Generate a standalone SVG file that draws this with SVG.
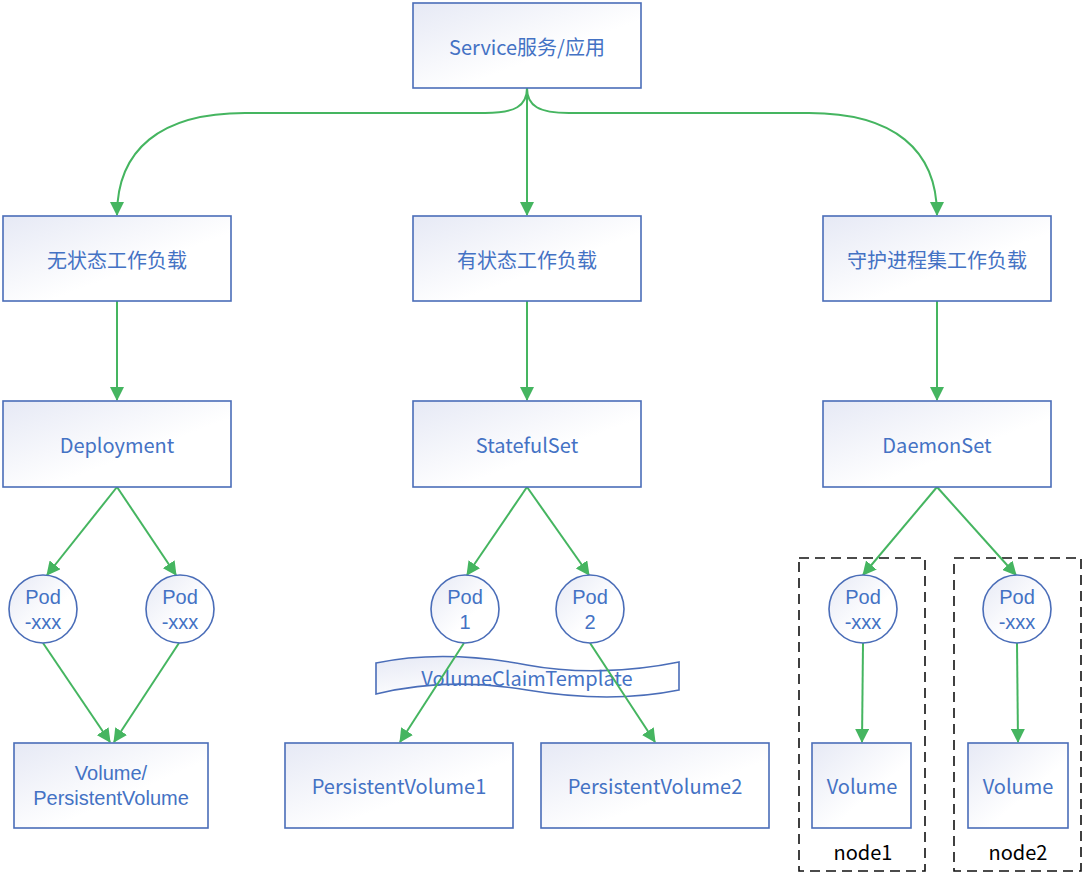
<svg xmlns="http://www.w3.org/2000/svg" width="1084" height="878" viewBox="0 0 1084 878">
<style>
.box{fill:url(#g);stroke:#4a6db8;stroke-width:1.6}
.t{font-family:"Noto Sans CJK SC","Microsoft YaHei","Noto Sans",sans-serif;font-size:20px;fill:#4472c4;text-anchor:middle;dominant-baseline:central}
.t2{font-family:"Liberation Sans",Arial,sans-serif;font-size:20px;fill:#4472c4;text-anchor:middle;dominant-baseline:central}
.k{font-family:"Noto Sans CJK SC","Noto Sans",sans-serif;font-size:20px;fill:#000;text-anchor:middle;dominant-baseline:central}
.e{fill:none;stroke:#45b560;stroke-width:2;marker-end:url(#a)}
.d{fill:none;stroke:#111;stroke-width:1.6;stroke-dasharray:10,6}
</style>
<defs>
<linearGradient id="g" x1="0" y1="0" x2="1" y2="1">
<stop offset="0" stop-color="#e6e9f5"/>
<stop offset="0.6" stop-color="#ffffff"/>
</linearGradient>
<marker id="a" viewBox="0 0 14 14" refX="13" refY="7" markerWidth="14" markerHeight="14" markerUnits="userSpaceOnUse" orient="auto">
<path d="M0,0 L14,7 L0,14 Z" fill="#45b560"/>
</marker>
</defs>
<rect width="1084" height="878" fill="#fff"/>
<g id="groups">
<rect class="d" x="799" y="558" width="126" height="313"/>
<text class="k" x="863" y="851">node1</text>
<rect class="d" x="954" y="558" width="127" height="313"/>
<text class="k" x="1018" y="851">node2</text>
</g>
<g id="vct"><path class="box" d="M376,663 C430,652 480,656 527,665 C575,674 630,672 679,662 L679,690 C630,700 575,698 527,690 C480,682 430,681 376,694 Z"/><text class="t" x="527" y="677">VolumeClaimTemplate</text></g>
<g id="connectors">
<path class="e" d="M527,88 C527,106 515,113 485,113 L245,113 C160,113 117,150 117,215"/>
<path class="e" d="M527,88 L527,215"/>
<path class="e" d="M527,88 C527,106 539,113 569,113 L809,113 C894,113 937,150 937,215"/>
<path class="e" d="M117,301 L117,400"/>
<path class="e" d="M527,301 L527,400"/>
<path class="e" d="M937,301 L937,400"/>
<path class="e" d="M117,487 L47,575"/>
<path class="e" d="M117,487 L176,575"/>
<path class="e" d="M43,643 L110,742"/>
<path class="e" d="M179,643 L114,742"/>
<path class="e" d="M527,487 L467,575"/>
<path class="e" d="M527,487 L589,575"/>
<path class="e" d="M464,643 L400,742"/>
<path class="e" d="M590,643 L655,742"/>
<path class="e" d="M937,487 L863,575"/>
<path class="e" d="M937,487 L1016,575"/>
<path class="e" d="M863,643 L862,742"/>
<path class="e" d="M1017,643 L1018,742"/>
</g>
<g id="service"><rect class="box" x="413" y="3" width="228" height="85"/><text class="t" x="527" y="46">Service服务/应用</text></g>
<g id="stateless"><rect class="box" x="3" y="216" width="228" height="85"/><text class="t" x="117" y="259">无状态工作负载</text></g>
<g id="stateful"><rect class="box" x="413" y="216" width="228" height="85"/><text class="t" x="527" y="259">有状态工作负载</text></g>
<g id="daemon"><rect class="box" x="823" y="216" width="228" height="85"/><text class="t" x="937" y="259">守护进程集工作负载</text></g>
<g id="deployment"><rect class="box" x="3" y="401" width="228" height="86"/><text class="t" x="117" y="444">Deployment</text></g>
<g id="statefulset"><rect class="box" x="413" y="401" width="228" height="86"/><text class="t" x="527" y="444">StatefulSet</text></g>
<g id="daemonset"><rect class="box" x="823" y="401" width="228" height="86"/><text class="t" x="937" y="444">DaemonSet</text></g>
<g id="pod-d1"><circle class="box" cx="43" cy="609" r="34"/><text class="t2" x="43" y="597">Pod</text><text class="t2" x="43" y="622">-xxx</text></g>
<g id="pod-d2"><circle class="box" cx="180" cy="609" r="34"/><text class="t2" x="180" y="597">Pod</text><text class="t2" x="180" y="622">-xxx</text></g>
<g id="pod-s1"><circle class="box" cx="465" cy="609" r="34"/><text class="t2" x="465" y="597">Pod</text><text class="t2" x="465" y="622">1</text></g>
<g id="pod-s2"><circle class="box" cx="590" cy="609" r="34"/><text class="t2" x="590" y="597">Pod</text><text class="t2" x="590" y="622">2</text></g>
<g id="pod-n1"><circle class="box" cx="863" cy="609" r="34"/><text class="t2" x="863" y="597">Pod</text><text class="t2" x="863" y="622">-xxx</text></g>
<g id="pod-n2"><circle class="box" cx="1017" cy="609" r="34"/><text class="t2" x="1017" y="597">Pod</text><text class="t2" x="1017" y="622">-xxx</text></g>
<g id="vol-d"><rect class="box" x="14" y="743" width="194" height="85"/><text class="t2" x="111" y="773">Volume/</text><text class="t2" x="111" y="798">PersistentVolume</text></g>
<g id="pv1"><rect class="box" x="285" y="743" width="228" height="85"/><text class="t" x="399" y="785">PersistentVolume1</text></g>
<g id="pv2"><rect class="box" x="541" y="743" width="228" height="85"/><text class="t" x="655" y="785">PersistentVolume2</text></g>
<g id="vol-n1"><rect class="box" x="812" y="743" width="99" height="85"/><text class="t" x="862" y="785">Volume</text></g>
<g id="vol-n2"><rect class="box" x="968" y="743" width="100" height="85"/><text class="t" x="1018" y="785">Volume</text></g>
</svg>
